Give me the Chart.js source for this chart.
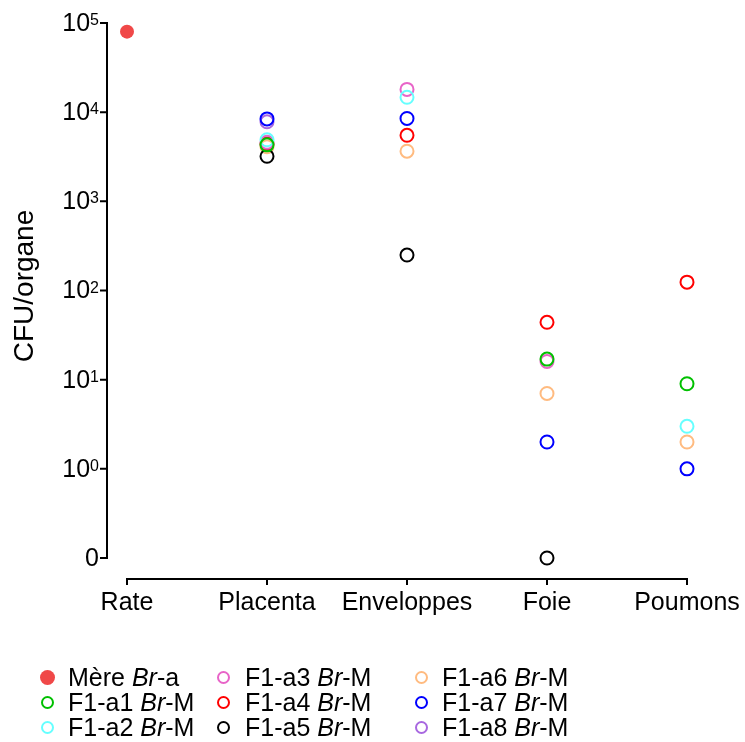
<!DOCTYPE html>
<html>
<head>
<meta charset="utf-8">
<script src="https://cdn.jsdelivr.net/npm/chart.js@4.4.1/dist/chart.umd.min.js"></script>
<style>
  body { margin: 0; background: #fff; }
  #wrap { position: relative; width: 745px; height: 742px; }
  #legend { position: absolute; left: 0; top: 0; font: 25px "Liberation Sans", Arial, sans-serif; color: #000; }
  .item { position: absolute; white-space: nowrap; line-height: 25px; }
  .dot { position: absolute; border-radius: 50%; box-sizing: border-box; }
</style>
</head>
<body>
<div id="wrap">
  <canvas id="chart" width="745" height="742"></canvas>
  <div id="legend"></div>
</div>
<script>
// categories and values (CFU per organ), 0 is drawn on the "0" line under 10^0
const categories = ['Rate', 'Placenta', 'Enveloppes', 'Foie', 'Poumons'];
const mere = [80000, null, null, null, null];
const a1 = [null, 4300, null, 17, 9];
const a2 = [null, 4900, 14700, null, 3];
const a3 = [null, 4600, 18000, 16, null];
const a4 = [null, 4400, 5500, 44, 124];
const a5 = [null, 3200, 250, 0, null];
const a6 = [null, 4100, 3650, 7, 2];
const a7 = [null, 8400, 8500, 2, 1];
const a8 = [null, 7800, null, null, null];
const yTicks = [0, 1, 10, 100, 1000, 10000, 100000];

const ZERO_POS = 0.1; // where the "0" tick sits on the log axis
const toLog = v => (v === 0 ? ZERO_POS : v);

const series = [
  { name: 'Mère ', ital: 'Br', tail: '-a', data: mere, color: '#f04848', filled: true },
  { name: 'F1-a1 ', ital: 'Br', tail: '-M', data: a1, color: '#00c000' },
  { name: 'F1-a2 ', ital: 'Br', tail: '-M', data: a2, color: '#66ffff' },
  { name: 'F1-a3 ', ital: 'Br', tail: '-M', data: a3, color: '#e864c8' },
  { name: 'F1-a4 ', ital: 'Br', tail: '-M', data: a4, color: '#ff0000' },
  { name: 'F1-a5 ', ital: 'Br', tail: '-M', data: a5, color: '#000000' },
  { name: 'F1-a6 ', ital: 'Br', tail: '-M', data: a6, color: '#ffbb80' },
  { name: 'F1-a7 ', ital: 'Br', tail: '-M', data: a7, color: '#0000ff' },
  { name: 'F1-a8 ', ital: 'Br', tail: '-M', data: a8, color: '#a868e0' }
];

const FONT = '"Liberation Sans", Arial, sans-serif';

const axesPlugin = {
  id: 'prismAxes',
  afterDraw(chart) {
    const ctx = chart.ctx;
    const y = chart.scales.y, x = chart.scales.x;
    const axX = chart.chartArea.left - 20;
    ctx.save();
    ctx.strokeStyle = '#000';
    ctx.lineWidth = 2;
    // y axis
    ctx.beginPath();
    ctx.moveTo(axX, y.getPixelForValue(1e5));
    ctx.lineTo(axX, y.getPixelForValue(ZERO_POS));
    yTicks.forEach(t => {
      const py = y.getPixelForValue(toLog(t));
      ctx.moveTo(axX + 1, py);
      ctx.lineTo(axX - 7, py);
    });
    ctx.stroke();
    // y tick labels
    ctx.fillStyle = '#000';
    yTicks.forEach(t => {
      const py = y.getPixelForValue(toLog(t));
      const right = axX - 8;
      if (t === 0) {
        ctx.font = '25px ' + FONT;
        ctx.textAlign = 'right';
        ctx.textBaseline = 'middle';
        ctx.fillText('0', right, py + 1);
        return;
      }
      const exp = String(Math.round(Math.log10(t)));
      ctx.font = '16px ' + FONT;
      const ew = ctx.measureText(exp).width;
      ctx.textAlign = 'left';
      ctx.textBaseline = 'alphabetic';
      ctx.fillText(exp, right - ew, py + 2);
      ctx.font = '25px ' + FONT;
      ctx.textAlign = 'right';
      ctx.textBaseline = 'middle';
      ctx.fillText('10', right - ew, py + 1);
    });
    // x axis
    const axY = chart.chartArea.bottom + 21;
    ctx.beginPath();
    ctx.moveTo(x.getPixelForValue(0) - 1, axY);
    ctx.lineTo(x.getPixelForValue(categories.length - 1) + 1, axY);
    categories.forEach((c, i) => {
      const px = Math.round(x.getPixelForValue(i));
      ctx.moveTo(px, axY);
      ctx.lineTo(px, axY + 6);
    });
    ctx.stroke();
    // y title
    ctx.translate(25, 286);
    ctx.rotate(-Math.PI / 2);
    ctx.font = '28px ' + FONT;
    ctx.textAlign = 'center';
    ctx.textBaseline = 'middle';
    ctx.fillText('CFU/organe', 0, 0);
    ctx.restore();
  }
};

new Chart(document.getElementById('chart'), {
  type: 'line',
  data: {
    labels: categories,
    datasets: series.map(s => ({
      label: s.name + s.ital + s.tail,
      data: s.data.map(v => (v === null ? null : toLog(v))),
      showLine: false,
      borderColor: s.color,
      backgroundColor: s.filled ? s.color : 'transparent',
      pointBackgroundColor: s.filled ? s.color : 'transparent',
      pointBorderColor: s.color,
      pointRadius: s.filled ? 7 : 6.5,
      pointBorderWidth: s.filled ? 0 : 2,
      clip: false
    }))
  },
  options: {
    responsive: false,
    animation: false,
    layout: { padding: { left: 127, right: 58, top: 23, bottom: 94 } },
    plugins: { legend: { display: false }, tooltip: { enabled: false } },
    scales: {
      x: {
        type: 'category',
        offset: false,
        grid: { display: false, drawTicks: false },
        border: { display: false },
        ticks: { color: '#000', font: { size: 25, family: FONT }, padding: 30, maxRotation: 0 },
        afterFit(scale) {
          // labels may spill into the padding, keep the plot edges fixed
          scale.paddingLeft = 0;
          scale.paddingRight = 0;
        }
      },
      y: {
        type: 'logarithmic',
        display: false,
        min: ZERO_POS,
        max: 100000
      }
    }
  },
  plugins: [axesPlugin]
});

// legend, three columns of three rows
const colText = [68, 245, 442];
const colDot = [47, 223, 421];
const rowY = [677, 702, 727];
const legend = document.getElementById('legend');
series.forEach((s, i) => {
  const c = Math.floor(i / 3), r = i % 3;
  const dot = document.createElement('span');
  dot.className = 'dot';
  const d = s.filled ? 15 : 13;
  dot.style.width = d + 'px';
  dot.style.height = d + 'px';
  dot.style.left = (colDot[c] - d / 2) + 'px';
  dot.style.top = (rowY[r] - d / 2) + 'px';
  if (s.filled) dot.style.background = s.color;
  else dot.style.border = '2px solid ' + s.color;
  legend.appendChild(dot);
  const item = document.createElement('div');
  item.className = 'item';
  item.style.left = colText[c] + 'px';
  item.style.top = (rowY[r] - 12.5) + 'px';
  item.innerHTML = s.name + '<i>' + s.ital + '</i>' + s.tail;
  legend.appendChild(item);
});
</script>
</body>
</html>
